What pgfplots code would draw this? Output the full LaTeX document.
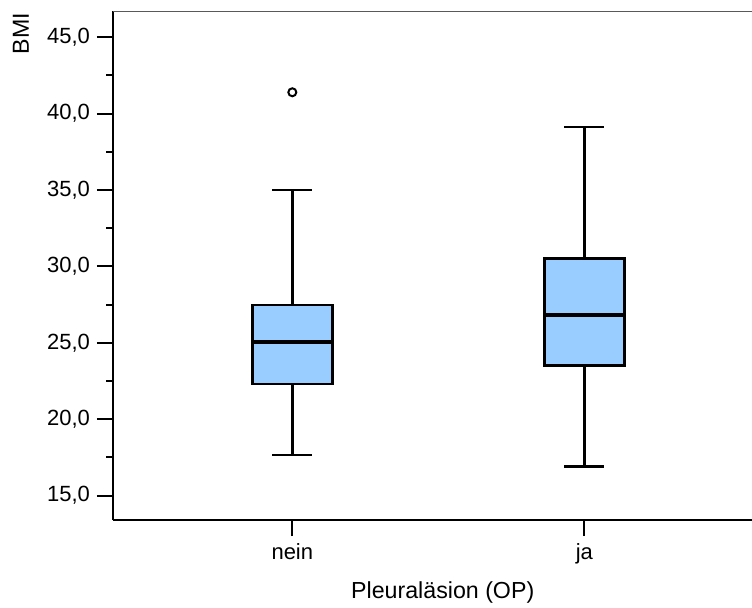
\documentclass[border=0pt]{standalone}
\usepackage{fontspec}
\setmainfont{Liberation Sans}
\usepackage{pgfplots}
\pgfplotsset{compat=1.18}
\usepgfplotslibrary{statistics}

\definecolor{boxblue}{HTML}{99CCFF}

\begin{document}
\begin{tikzpicture}
\begin{axis}[
  scale only axis,
  width=319.5pt, height=254.5pt,
  xmin=0.386, xmax=2.574,
  ymin=13.40, ymax=46.72,
  axis x line*=bottom,
  axis y line*=left,
  axis line style={-, line width=1pt, black},
  xtick={1,2},
  xticklabels={nein,ja},
  ytick={15,20,...,45},
  minor y tick num=1,
  tick align=outside,
  major tick length=8pt,
  minor tick length=3.5pt,
  tick style={black, line width=1pt},
  tick label style={font=\fontsize{11}{13}\selectfont},
  label style={font=\fontsize{11.6}{14}\selectfont},
  yticklabel style={/pgf/number format/fixed, /pgf/number format/fixed zerofill,
    /pgf/number format/precision=1, /pgf/number format/use comma,
    /pgf/number format/assume math mode=true},
  xlabel={Pleuraläsion (OP)},
  ylabel={BMI},
  xlabel style={at={(rel axis cs:0.516,0)}, anchor=center, yshift=-36pt},
  ylabel style={at={(rel axis cs:0,0.956)}, anchor=center, yshift=46.1pt},
  boxplot/draw direction=y,
  boxplot/box extend=0.274,
  boxplot/whisker extend=0.137,
  boxplot/every box/.style={draw=black, line width=1.4pt, fill=boxblue},
  boxplot/every whisker/.style={draw=black, line width=1.4pt},
  boxplot/every median/.style={draw=black, line width=2pt},
]
\coordinate (bl) at (rel axis cs:0,0);
\coordinate (tr) at (rel axis cs:1,1);
\draw[gray!70!black, line width=0.75pt] (rel axis cs:0,1) -- (rel axis cs:1,1);

% nein
\addplot+[boxplot prepared={
    lower whisker=17.65, lower quartile=22.30, median=25.05,
    upper quartile=27.48, upper whisker=35.0, draw position=1},
  black, solid, mark=o, mark size=2pt, mark options={black, line width=1pt, fill=white}]
  table[row sep=\\, y index=0] {41.40\\};

% ja
\addplot+[boxplot prepared={
    lower whisker=16.89, lower quartile=23.53, median=26.82,
    upper quartile=30.51, upper whisker=39.13, draw position=2},
  black, solid]
  coordinates {};
\end{axis}
\pgfresetboundingbox
\path (tr) ++(0,5.5pt) coordinate (tr2);
\path[use as bounding box] (bl) ++(-56.5pt,-43.5pt) rectangle (tr2);
\end{tikzpicture}
\end{document}
